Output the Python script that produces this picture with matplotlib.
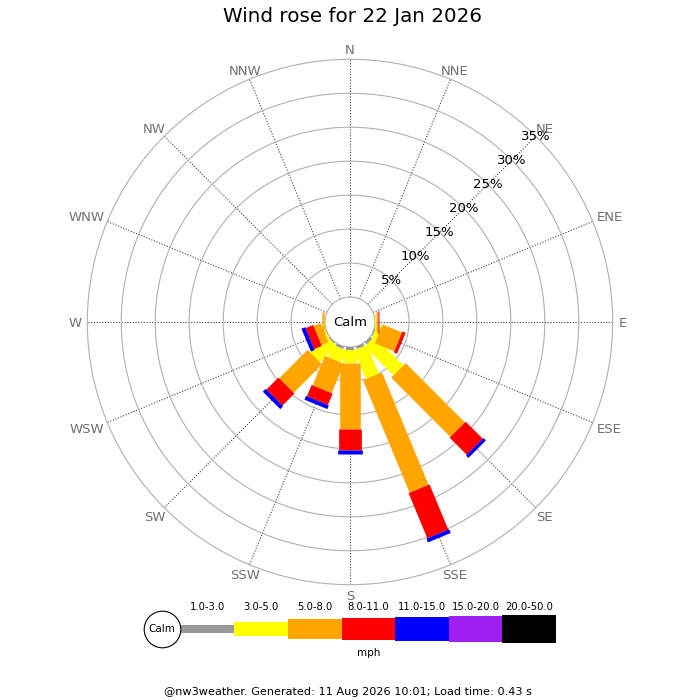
import numpy as np
import matplotlib
matplotlib.use("Agg")
import matplotlib.pyplot as plt

# --- data (percent of time per direction, per speed bin) ---
directions = ["N", "NNE", "NE", "ENE", "E", "ESE", "SE", "SSE",
              "S", "SSW", "SW", "WSW", "W", "WNW", "NW", "NNW"]
speed_bins = ["1.0-3.0", "3.0-5.0", "5.0-8.0", "8.0-11.0",
              "11.0-15.0", "15.0-20.0", "20.0-50.0"]
bin_colors = ["#999999", "#ffff00", "#ffa500", "#ff0000",
              "#0000ff", "#a020f0", "#000000"]

freq_1_3 = [0, 0, 0, 0, 0, 0.2, 0.4, 0.4, 0.4, 0.4, 0.2, 0.1, 0, 0, 0, 0]
freq_3_5 = [0, 0, 0, 0, 0.15, 0.7, 6.0, 4.6, 2.0, 1.95, 3.45, 0.3, 0.2, 0, 0, 0]
freq_5_8 = [0, 0, 0, 0, 0.25, 3.1, 12.35, 17.9, 9.7, 4.7, 5.9, 1.1, 0.2, 0, 0, 0]
freq_8_11 = [0, 0, 0, 0, 0.25, 0.5, 3.55, 7.2, 3.0, 1.8, 2.5, 1.2, 0, 0, 0, 0]
freq_11_15 = [0, 0, 0, 0, 0, 0, 0.5, 0.6, 0.6, 0.6, 0.6, 0.6, 0, 0, 0, 0]
freq_15_20 = [0] * 16
freq_20_50 = [0] * 16

pct_rings = [5, 10, 15, 20, 25, 30, 35]
title = "Wind rose for 22 Jan 2026"
footer = "@nw3weather. Generated: 11 Aug 2026 10:01; Load time: 0.43 s"

# bar thickness per speed bin (pixels)
bar_px = [8, 14, 20.5, 22.7, 24.7, 26.7, 28.3]

freqs = np.array([freq_1_3, freq_3_5, freq_5_8, freq_8_11,
                  freq_11_15, freq_15_20, freq_20_50])

fig = plt.figure(figsize=(7, 7), dpi=100)

# polar axes: centre at (350, 322) px, outer radius ~263 px, calm radius 25 px
R = 262.7
calm_r = 25
rmax = 35
rorig = -rmax * calm_r / (R - calm_r)
ax = fig.add_axes([(350 - R) / 700, (700 - 322 - R) / 700, 2 * R / 700, 2 * R / 700],
                  projection="polar")
ax.set_theta_zero_location("N")
ax.set_theta_direction(-1)
ax.set_ylim(0, rmax)
ax.set_rorigin(rorig)

thetas = np.radians(np.arange(16) * 22.5)
ax.set_thetagrids(np.arange(16) * 22.5, labels=[""] * 16)
ax.set_rgrids(pct_rings[:-1], labels=[""] * (len(pct_rings) - 1))
ax.xaxis.grid(True, color="#444444", linestyle=(0, (1, 1.5)), linewidth=0.8)
ax.yaxis.grid(True, color="#b0b0b0", linestyle="-", linewidth=0.8)
ax.spines["polar"].set_color("#b0b0b0")
ax.spines["polar"].set_linewidth(0.8)
ax.spines["inner"].set_color("#b0b0b0")
ax.spines["inner"].set_linewidth(0.8)
ax.tick_params(length=0)

# direction names placed just outside the ring, pushed out by their own size
renderer = fig.canvas.get_renderer()
cap_half = 4.9
for th, name in zip(thetas, directions):
    t = ax.annotate(name, xy=(th, rmax), xytext=(0, 0), textcoords="offset pixels",
                    ha="center", va="baseline", fontsize=9.5, color="#707070",
                    annotation_clip=False)
    w = t.get_window_extent(renderer).width
    s, c = np.sin(th), np.cos(th)
    s = 0 if abs(s) < 1e-6 else s
    c = 0 if abs(c) < 1e-6 else c
    dx = s * (6 + abs(s) * w / 2)
    dy = c * 8.3 + np.sign(c) * 2
    t.xyann = (dx, dy - cap_half)

for p in pct_rings:
    ax.text(np.radians(45), p, f"{p}%", ha="center", va="center", fontsize=9.5,
            color="black", zorder=5)

# stacked bars drawn as thick radial lines (constant width)
cum = np.zeros(16)
for b in range(len(speed_bins)):
    for i, th in enumerate(thetas):
        v = freqs[b, i]
        if v > 0:
            ax.plot([th, th], [cum[i], cum[i] + v], color=bin_colors[b],
                    linewidth=bar_px[b] * 0.72, solid_capstyle="butt", zorder=3)
    cum += freqs[b]

ax.text(0.5, 0.5, "Calm", transform=ax.transAxes, ha="center", va="center",
        fontsize=9.5, zorder=6)

fig.text(0.503, 1 - 17 / 700, title, ha="center", va="center", fontsize=14.3)

# legend strip
unit = 53.6
x0 = 180.7
lax = fig.add_axes([140 / 700, (700 - 664) / 700, 420 / 700, 70 / 700])
lax.set_xlim((140 - x0) / unit, (560 - x0) / unit)
lax.set_ylim(-35, 35)
lax.axis("off")
h = np.array(bar_px)
lax.bar(np.arange(len(speed_bins)) + 0.5, h, width=1, bottom=-h / 2,
        color=bin_colors, linewidth=0)
for i, lab in enumerate(speed_bins):
    lax.text(i + 0.5, 22.3, lab, ha="center", va="center", fontsize=7.2)
calm_x = (162.3 - x0) / unit
lax.scatter([calm_x], [0], s=(2 * 18.3 * 0.72) ** 2, facecolor="white",
            edgecolor="black", linewidth=0.8, zorder=3)
lax.text(calm_x, 0, "Calm", ha="center", va="center", fontsize=7.5, zorder=4)
lax.text(3.5, -24, "mph", ha="center", va="center", fontsize=7.5)

fig.text(348 / 700, 1 - 692 / 700, footer, ha="center", va="center", fontsize=8.1)

fig.savefig("out.png", dpi=100)
